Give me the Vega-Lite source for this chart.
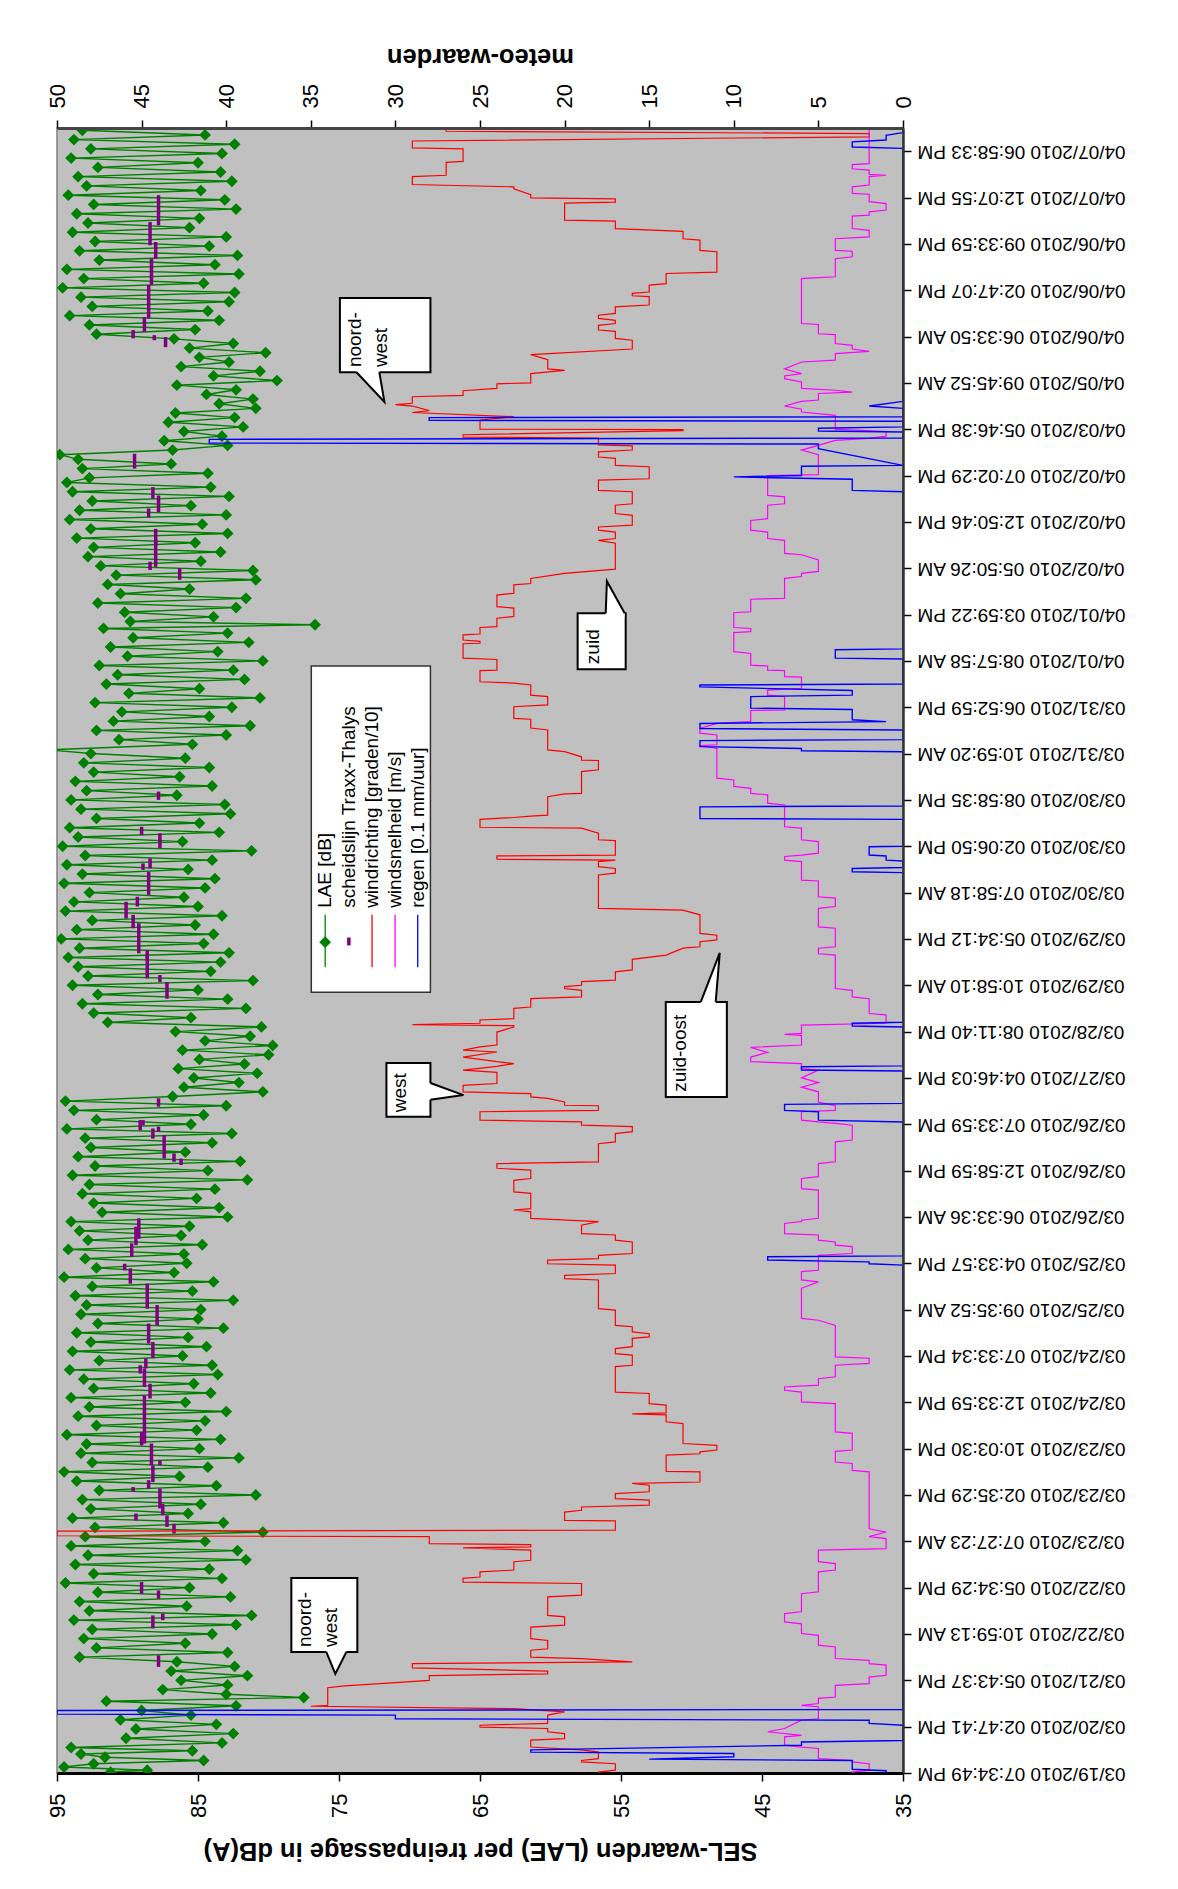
{
"$schema":"https://vega.github.io/schema/vega-lite/v6.json",
"width":846,"height":1645,
"autosize":{"type":"none"},
"padding":{"left":57,"top":128,"right":275,"bottom":116},
"background":"white",
"config":{
 "view":{"fill":"#c0c0c0","stroke":"#808080","strokeWidth":1.5},
 "font":"Liberation Sans",
 "axis":{"labelFont":"Liberation Sans","titleFont":"Liberation Sans","labelColor":"#000","titleColor":"#000","tickColor":"#000","domainColor":"#000","grid":false,"labelOverlap":false,"labelFlush":false,"labelBound":false,"labelLimit":500,"zindex":1}
},
"datasets":{
"lae":[
{"t":35.45,"v":93.2},{"t":35.35,"v":84.5},{"t":35.25,"v":93.8},{"t":35.15,"v":82.4},{"t":35.05,"v":92.6},{"t":34.95,"v":83.3},{"t":34.85,"v":94.0},{"t":34.75,"v":85.0},{"t":34.65,"v":92.1},{"t":34.55,"v":83.4},{"t":34.45,"v":93.5},{"t":34.35,"v":82.6},{"t":34.25,"v":92.9},{"t":34.15,"v":84.8},{"t":34.05,"v":94.2},{"t":33.95,"v":83.1},{"t":33.85,"v":92.4},{"t":33.75,"v":82.3},{"t":33.65,"v":93.6},{"t":33.55,"v":84.9},{"t":33.45,"v":92.8},{"t":33.35,"v":85.6},{"t":33.25,"v":93.9},{"t":33.15,"v":83.0},{"t":33.05,"v":92.3},{"t":32.95,"v":84.2},{"t":32.85,"v":93.4},{"t":32.75,"v":82.2},{"t":32.65,"v":92.0},{"t":32.55,"v":83.8},{"t":32.45,"v":94.3},{"t":32.35,"v":82.1},{"t":32.25,"v":93.1},{"t":32.15,"v":84.6},{"t":32.05,"v":94.6},{"t":31.95,"v":82.4},{"t":31.85,"v":93.3},{"t":31.75,"v":82.8},{"t":31.65,"v":92.5},{"t":31.55,"v":84.3},{"t":31.45,"v":94.1},{"t":31.35,"v":83.5},{"t":31.25,"v":92.7},{"t":31.15,"v":85.2},{"t":31.05,"v":92.2},
{"t":30.95,"v":86.7},{"t":30.85,"v":82.5},{"t":30.75,"v":85.6},{"t":30.65,"v":80.2},{"t":30.55,"v":84.9},{"t":30.45,"v":82.8},{"t":30.35,"v":86.2},{"t":30.25,"v":80.6},{"t":30.15,"v":83.9},{"t":30.05,"v":79.4},{"t":29.95,"v":86.5},{"t":29.85,"v":82.3},{"t":29.75,"v":84.4},{"t":29.65,"v":81.1},{"t":29.55,"v":83.5},{"t":29.45,"v":80.9},{"t":29.35,"v":86.6},{"t":29.25,"v":82.4},{"t":29.15,"v":87.1},{"t":29.05,"v":81.8},{"t":28.95,"v":86.0},{"t":28.85,"v":83.3},{"t":28.75,"v":87.4},{"t":28.65,"v":82.9},{"t":28.55,"v":86.8},
{"t":28.45,"v":94.8},{"t":28.35,"v":93.5},{"t":28.25,"v":86.9},{"t":28.15,"v":93.2},{"t":28.05,"v":84.3},{"t":27.95,"v":92.7},{"t":27.85,"v":94.3},{"t":27.75,"v":84.1},{"t":27.65,"v":93.9},{"t":27.55,"v":82.8},{"t":27.45,"v":92.5},{"t":27.35,"v":85.5},{"t":27.25,"v":93.4},{"t":27.15,"v":83.0},{"t":27.05,"v":94.1},{"t":26.95,"v":84.7},{"t":26.85,"v":92.6},{"t":26.75,"v":82.9},{"t":26.65,"v":93.6},{"t":26.55,"v":85.2},
{"t":26.45,"v":92.4},{"t":26.35,"v":83.4},{"t":26.25,"v":92.8},{"t":26.15,"v":84.8},{"t":26.05,"v":91.9},{"t":25.95,"v":81.1},{"t":25.85,"v":90.8},{"t":25.75,"v":80.9},{"t":25.65,"v":91.4},{"t":25.55,"v":85.6},{"t":25.45,"v":90.5},{"t":25.35,"v":81.6},{"t":25.25,"v":92.1},{"t":25.15,"v":82.3},{"t":25.05,"v":90.2},{"t":24.95,"v":83.9},{"t":24.85,"v":89.8},{"t":24.78,"v":76.7},{"t":24.7,"v":91.7},{"t":24.6,"v":82.9},{"t":24.5,"v":89.6},{"t":24.4,"v":81.4},{"t":24.3,"v":91.2},{"t":24.2,"v":83.6},{"t":24.1,"v":90.0},{"t":24.0,"v":80.4},{"t":23.9,"v":92.0},{"t":23.8,"v":82.5},{"t":23.7,"v":90.7},{"t":23.6,"v":81.7},{"t":23.5,"v":91.5},{"t":23.4,"v":84.9},{"t":23.3,"v":89.9},{"t":23.2,"v":80.6},{"t":23.1,"v":92.3},{"t":23.0,"v":82.6},{"t":22.9,"v":90.4},{"t":22.8,"v":84.2},{"t":22.7,"v":91.0},{"t":22.6,"v":81.3},{"t":22.5,"v":92.2},{"t":22.4,"v":83.0},{"t":22.3,"v":90.6},{"t":22.2,"v":85.4},{"t":22.08,"v":95.6},
{"t":22.0,"v":92.6},{"t":21.9,"v":85.9},{"t":21.8,"v":93.1},{"t":21.7,"v":84.2},{"t":21.6,"v":92.4},{"t":21.5,"v":86.3},{"t":21.4,"v":93.7},{"t":21.3,"v":84.0},{"t":21.2,"v":92.9},{"t":21.1,"v":86.5},{"t":21.0,"v":94.0},{"t":20.9,"v":83.1},{"t":20.8,"v":93.3},{"t":20.7,"v":82.7},{"t":20.6,"v":92.2},{"t":20.5,"v":84.9},{"t":20.4,"v":94.1},{"t":20.3,"v":83.5},{"t":20.2,"v":93.5},{"t":20.1,"v":86.1},{"t":20.0,"v":94.6},{"t":19.9,"v":81.2},{"t":19.8,"v":93.0},{"t":19.7,"v":84.0},{"t":19.6,"v":94.3},{"t":19.5,"v":85.7},{"t":19.4,"v":93.2},{"t":19.3,"v":83.8},{"t":19.2,"v":94.5},{"t":19.1,"v":84.5},{"t":19.0,"v":92.7},{"t":18.9,"v":86.0},{"t":18.8,"v":93.8},{"t":18.7,"v":85.0},{"t":18.6,"v":94.4},{"t":18.5,"v":83.3},{"t":18.4,"v":92.5},{"t":18.3,"v":85.2},{"t":18.2,"v":93.6},{"t":18.1,"v":83.9},{"t":18.0,"v":94.7},{"t":17.9,"v":84.6},{"t":17.8,"v":93.4},{"t":17.7,"v":82.8},{"t":17.6,"v":94.2},
{"t":17.5,"v":83.4},{"t":17.4,"v":93.5},{"t":17.3,"v":84.1},{"t":17.2,"v":92.8},{"t":17.1,"v":81.1},{"t":17.0,"v":93.9},{"t":16.9,"v":85.0},{"t":16.8,"v":92.1},{"t":16.7,"v":82.9},{"t":16.6,"v":93.2},{"t":16.5,"v":81.6},{"t":16.4,"v":92.4},{"t":16.3,"v":85.5},{"t":16.2,"v":91.4},
{"t":16.1,"v":80.5},{"t":16.0,"v":86.6},{"t":15.9,"v":81.3},{"t":15.8,"v":84.5},{"t":15.7,"v":79.7},{"t":15.6,"v":86.1},{"t":15.5,"v":80.0},{"t":15.4,"v":84.9},{"t":15.3,"v":81.7},{"t":15.2,"v":86.4},{"t":15.1,"v":80.8},{"t":15.0,"v":85.3},{"t":14.9,"v":82.1},{"t":14.8,"v":86.0},{"t":14.7,"v":80.4},{"t":14.6,"v":86.8},
{"t":14.5,"v":94.4},{"t":14.4,"v":83.0},{"t":14.3,"v":93.8},{"t":14.2,"v":84.6},{"t":14.1,"v":92.2},{"t":14.0,"v":85.5},{"t":13.9,"v":94.3},{"t":13.8,"v":82.6},{"t":13.7,"v":93.0},{"t":13.6,"v":84.0},{"t":13.5,"v":92.6},{"t":13.4,"v":85.9},{"t":13.3,"v":93.5},{"t":13.2,"v":82.0},{"t":13.1,"v":92.3},{"t":13.0,"v":84.3},{"t":12.9,"v":93.9},{"t":12.8,"v":81.5},{"t":12.7,"v":92.7},{"t":12.6,"v":83.8},{"t":12.5,"v":93.2},{"t":12.4,"v":85.1},{"t":12.3,"v":92.4},{"t":12.2,"v":83.5},{"t":12.1,"v":91.8},{"t":12.0,"v":82.9},{"t":11.9,"v":94.0},{"t":11.8,"v":85.6},{"t":11.7,"v":93.4},{"t":11.6,"v":86.2},{"t":11.5,"v":92.8},{"t":11.4,"v":84.7},{"t":11.3,"v":94.2},{"t":11.2,"v":86.0},{"t":11.1,"v":93.0},{"t":11.0,"v":85.8},{"t":10.9,"v":92.2},{"t":10.8,"v":86.7},{"t":10.7,"v":94.5},{"t":10.6,"v":83.9},{"t":10.5,"v":92.5},{"t":10.4,"v":85.4},{"t":10.3,"v":93.7},{"t":10.2,"v":82.5},{"t":10.1,"v":92.9},{"t":10.0,"v":84.8},{"t":9.9,"v":93.3},{"t":9.8,"v":85.0},{"t":9.7,"v":92.1},{"t":9.6,"v":83.2},{"t":9.5,"v":93.6},{"t":9.4,"v":85.7},{"t":9.3,"v":92.6},{"t":9.2,"v":84.4},{"t":9.1,"v":93.9},{"t":9.0,"v":86.1},{"t":8.9,"v":92.0},{"t":8.8,"v":84.0},{"t":8.7,"v":94.1},{"t":8.6,"v":83.6},
{"t":8.5,"v":93.1},{"t":8.4,"v":85.3},{"t":8.3,"v":92.4},{"t":8.2,"v":84.1},{"t":8.1,"v":94.0},{"t":8.0,"v":85.9},{"t":7.9,"v":92.7},{"t":7.8,"v":83.0},{"t":7.7,"v":93.5},{"t":7.6,"v":84.5},{"t":7.5,"v":92.2},{"t":7.4,"v":85.1},{"t":7.3,"v":94.3},{"t":7.2,"v":83.4},{"t":7.1,"v":92.9},{"t":7.0,"v":84.9},{"t":6.9,"v":93.3},{"t":6.8,"v":82.1},{"t":6.7,"v":92.5},{"t":6.6,"v":84.3},{"t":6.5,"v":94.5},{"t":6.4,"v":86.3},{"t":6.3,"v":93.6},{"t":6.2,"v":83.7},{"t":6.1,"v":92.0},{"t":6.0,"v":80.9},{"t":5.9,"v":93.2},{"t":5.8,"v":84.8},{"t":5.7,"v":92.6},{"t":5.6,"v":85.7},{"t":5.5,"v":93.9},{"t":5.4,"v":83.2},{"t":5.3,"v":92.3},{"t":5.2,"v":80.4},{"t":5.1,"v":93.0},{"t":5.0,"v":84.5},{"t":4.9,"v":94.0},{"t":4.8,"v":82.2},{"t":4.7,"v":92.8},{"t":4.6,"v":81.6},{"t":4.5,"v":93.7},{"t":4.4,"v":84.2},{"t":4.3,"v":92.4},{"t":4.2,"v":83.3},{"t":4.1,"v":94.4},{"t":4.0,"v":85.6},{"t":3.9,"v":92.1},{"t":3.8,"v":82.7},{"t":3.7,"v":93.4},{"t":3.6,"v":85.8},{"t":3.5,"v":92.7},{"t":3.4,"v":81.2},{"t":3.3,"v":93.8},{"t":3.2,"v":82.3},{"t":3.1,"v":92.5},{"t":3.0,"v":84.0},{"t":2.9,"v":93.1},{"t":2.8,"v":85.9},{"t":2.7,"v":92.2},{"t":2.6,"v":82.9},{"t":2.5,"v":93.4},
{"t":2.4,"v":86.5},{"t":2.3,"v":82.4},{"t":2.2,"v":86.9},{"t":2.1,"v":81.5},{"t":2.0,"v":86.2},{"t":1.9,"v":82.9},{"t":1.8,"v":87.5},{"t":1.7,"v":83.0},{"t":1.63,"v":77.5},{"t":1.55,"v":91.5},{"t":1.45,"v":82.3},{"t":1.35,"v":89.0},{"t":1.25,"v":85.5},{"t":1.15,"v":90.5},{"t":1.05,"v":83.7},{"t":0.95,"v":89.4},{"t":0.85,"v":82.5},{"t":0.75,"v":90.1},{"t":0.65,"v":83.3},
{"t":0.55,"v":94.0},{"t":0.48,"v":85.4},{"t":0.41,"v":93.3},{"t":0.34,"v":91.6},{"t":0.27,"v":84.6},{"t":0.2,"v":92.4},{"t":0.13,"v":94.5},{"t":0.06,"v":88.6},{"t":0.02,"v":91.2}
],
"sch":[
{"t1":34.05,"t2":33.4,"v":87.8},{"t1":33.47,"t2":32.97,"v":88.4},{"t1":33.04,"t2":32.68,"v":88.0},{"t1":32.68,"t2":32.11,"v":88.3},{"t1":32.11,"t2":31.39,"v":88.5},{"t1":31.42,"t2":31.1,"v":88.8},{"t1":31.14,"t2":30.96,"v":89.6},{"t1":31.03,"t2":30.92,"v":88.1},{"t1":30.99,"t2":30.77,"v":87.3},{"t1":28.47,"t2":28.15,"v":89.5},{"t1":27.75,"t2":27.5,"v":88.2},{"t1":27.57,"t2":27.21,"v":87.8},{"t1":27.29,"t2":27.1,"v":88.5},{"t1":26.85,"t2":26.49,"v":88.0},
{"t1":26.61,"t2":26.03,"v":88.0},{"t1":26.14,"t2":25.96,"v":88.4},{"t1":26.0,"t2":25.75,"v":86.3},{"t1":21.18,"t2":21.0,"v":87.8},{"t1":20.42,"t2":20.24,"v":89.0},{"t1":20.28,"t2":19.96,"v":87.7},{"t1":19.74,"t2":19.52,"v":88.4},{"t1":19.63,"t2":19.49,"v":88.9},{"t1":19.45,"t2":18.95,"v":88.5},{"t1":18.91,"t2":18.7,"v":89.3},{"t1":18.8,"t2":18.44,"v":90.1},{"t1":18.52,"t2":18.23,"v":89.6},{"t1":18.34,"t2":17.69,"v":89.2},{"t1":17.76,"t2":17.55,"v":88.6},
{"t1":17.65,"t2":17.15,"v":88.6},{"t1":17.22,"t2":17.07,"v":87.7},{"t1":17.07,"t2":16.71,"v":87.2},{"t1":14.56,"t2":14.38,"v":87.8},{"t1":14.09,"t2":13.87,"v":89.1},{"t1":14.09,"t2":13.98,"v":88.9},{"t1":13.91,"t2":13.69,"v":88.2},{"t1":13.95,"t2":13.84,"v":87.8},{"t1":13.77,"t2":13.26,"v":87.4},{"t1":13.37,"t2":13.19,"v":86.7},{"t1":13.26,"t2":13.12,"v":86.2},{"t1":11.97,"t2":11.53,"v":89.2},{"t1":11.79,"t2":11.39,"v":89.4},{"t1":11.43,"t2":11.14,"v":89.7},{"t1":10.99,"t2":10.85,"v":90.2},{"t1":10.89,"t2":10.56,"v":89.8},{"t1":10.56,"t2":10.02,"v":88.6},{"t1":10.1,"t2":9.66,"v":87.9},{"t1":9.7,"t2":9.27,"v":88.5},{"t1":9.3,"t2":8.95,"v":88.2},{"t1":8.95,"t2":8.73,"v":88.7},
{"t1":8.8,"t2":8.62,"v":89.1},{"t1":8.73,"t2":8.33,"v":88.8},{"t1":8.4,"t2":8.08,"v":88.4},{"t1":8.15,"t2":7.11,"v":88.8},{"t1":7.36,"t2":7.07,"v":89.0},{"t1":7.11,"t2":6.64,"v":88.3},{"t1":6.75,"t2":6.64,"v":87.7},{"t1":6.64,"t2":6.28,"v":88.2},{"t1":6.32,"t2":6.14,"v":88.5},{"t1":6.17,"t2":6.07,"v":89.6},{"t1":6.14,"t2":5.71,"v":87.7},{"t1":5.81,"t2":5.56,"v":87.5},{"t1":5.56,"t2":5.31,"v":87.2},{"t1":5.38,"t2":5.17,"v":86.7},{"t1":5.6,"t2":5.45,"v":89.4},{"t1":4.12,"t2":3.87,"v":89.0},{"t1":3.94,"t2":3.76,"v":87.8},{"t1":3.44,"t2":3.3,"v":87.5},{"t1":3.4,"t2":3.12,"v":88.2},{"t1":2.54,"t2":2.29,"v":87.8}
],
"red":[
{"t":35.5,"m":27},{"t":35.43,"m":27},{"t":35.38,"m":2},{"t":35.31,"m":2},{"t":35.22,"m":29},{"t":35.07,"m":29},{"t":35.05,"m":26},{"t":34.78,"m":26},{"t":34.76,"m":27},{"t":34.48,"m":27},{"t":34.45,"m":29},{"t":34.28,"m":29},{"t":34.23,"m":23},{"t":34.19,"m":23},{"t":34.06,"m":22},{"t":33.99,"m":22},{"t":33.97,"m":17},{"t":33.9,"m":17},{"t":33.88,"m":20},{"t":33.51,"m":20},{"t":33.49,"m":17},{"t":33.33,"m":17},{"t":33.27,"m":13},{"t":33.11,"m":13},{"t":33.08,"m":12},{"t":32.86,"m":12},{"t":32.83,"m":11},{"t":32.39,"m":11},{"t":32.36,"m":14},{"t":32.14,"m":14},{"t":32.11,"m":15},{"t":31.96,"m":15},{"t":31.93,"m":16},{"t":31.88,"m":16},{"t":31.86,"m":15},{"t":31.68,"m":15},{"t":31.64,"m":17},{"t":31.5,"m":17},{"t":31.46,"m":18},{"t":31.39,"m":18},{"t":31.35,"m":17},{"t":31.28,"m":17},{"t":31.24,"m":18},{"t":31.14,"m":18},{"t":31.11,"m":17},{"t":30.96,"m":17},{"t":30.92,"m":16},{"t":30.73,"m":16},{"t":30.61,"m":22},{"t":30.5,"m":21},{"t":30.3,"m":21},{"t":30.27,"m":20},{"t":30.2,"m":22},{"t":30.0,"m":22},{"t":29.98,"m":24},{"t":29.88,"m":24},{"t":29.83,"m":26},{"t":29.73,"m":26},{"t":29.7,"m":29},{"t":29.56,"m":29},{"t":29.53,"m":30},{"t":29.5,"m":29},{"t":29.4,"m":28},{"t":29.36,"m":29},{"t":29.27,"m":23},{"t":29.2,"m":25},{"t":29.0,"m":25},{"t":28.99,"m":13},{"t":28.97,"m":13},{"t":28.88,"m":26},{"t":28.83,"m":26},{"t":28.81,"m":18},{"t":28.66,"m":18},{"t":28.64,"m":16},{"t":28.55,"m":16},{"t":28.51,"m":18},{"t":28.4,"m":18},{"t":28.37,"m":17},{"t":28.22,"m":17},{"t":28.19,"m":15},{"t":27.93,"m":15},{"t":27.9,"m":18},{"t":27.68,"m":18},{"t":27.65,"m":16},{"t":27.39,"m":16},{"t":27.36,"m":17},{"t":27.18,"m":17},{"t":27.14,"m":16},{"t":26.93,"m":16},{"t":26.89,"m":18},{"t":26.82,"m":18},{"t":26.78,"m":17},{"t":26.64,"m":17},
{"t":26.6,"m":18},{"t":26.54,"m":17},{"t":25.98,"m":17},{"t":25.89,"m":20},{"t":25.78,"m":22},{"t":25.67,"m":22},{"t":25.64,"m":23},{"t":25.46,"m":23},{"t":25.42,"m":24},{"t":25.17,"m":24},{"t":25.14,"m":23},{"t":24.96,"m":23},{"t":24.92,"m":24},{"t":24.74,"m":24},{"t":24.72,"m":25},{"t":24.58,"m":25},{"t":24.56,"m":26},{"t":24.45,"m":26},{"t":24.42,"m":25},{"t":24.38,"m":25},{"t":24.37,"m":26},{"t":24.06,"m":26},{"t":24.03,"m":24},{"t":23.8,"m":24},{"t":23.79,"m":25},{"t":23.55,"m":25},{"t":23.52,"m":23},{"t":23.48,"m":22},{"t":23.26,"m":22},{"t":23.23,"m":21},{"t":23.05,"m":21},{"t":23.01,"m":23},{"t":22.76,"m":23},{"t":22.74,"m":22},{"t":22.55,"m":22},{"t":22.51,"m":21},{"t":22.08,"m":21},{"t":22.04,"m":20},{"t":21.93,"m":19},{"t":21.86,"m":19},{"t":21.85,"m":18},{"t":21.65,"m":18},{"t":21.61,"m":19},{"t":21.14,"m":19},{"t":21.13,"m":20},{"t":21.07,"m":21},{"t":20.67,"m":21},{"t":20.65,"m":22},{"t":20.62,"m":23},{"t":20.58,"m":25},{"t":20.41,"m":25},{"t":20.39,"m":19},{"t":20.28,"m":18},{"t":20.14,"m":18},{"t":20.12,"m":17},{"t":19.81,"m":17},{"t":19.79,"m":24},{"t":19.72,"m":24},{"t":19.7,"m":17},{"t":19.67,"m":18},{"t":19.56,"m":18},{"t":19.52,"m":17},{"t":19.42,"m":17},{"t":19.38,"m":18},{"t":18.66,"m":18},{"t":18.62,"m":13},{"t":18.52,"m":12},{"t":18.12,"m":12},{"t":18.08,"m":11},{"t":17.98,"m":11},{"t":17.94,"m":12},{"t":17.83,"m":12},{"t":17.8,"m":13},{"t":17.65,"m":14},
{"t":17.56,"m":16},{"t":17.33,"m":16},{"t":17.29,"m":17},{"t":17.11,"m":17},{"t":17.08,"m":19},{"t":17.0,"m":19},{"t":16.97,"m":20},{"t":16.93,"m":20},{"t":16.89,"m":19},{"t":16.75,"m":19},{"t":16.71,"m":22},{"t":16.53,"m":22},{"t":16.5,"m":23},{"t":16.28,"m":23},{"t":16.25,"m":25},{"t":16.18,"m":25},{"t":16.15,"m":29},{"t":16.13,"m":23},{"t":16.1,"m":23},{"t":15.99,"m":24},{"t":15.71,"m":24},{"t":15.67,"m":25},{"t":15.6,"m":26},{"t":15.56,"m":24},{"t":15.45,"m":26},{"t":15.35,"m":24},{"t":15.31,"m":23},{"t":15.25,"m":24},{"t":15.17,"m":26},{"t":15.12,"m":24},{"t":14.88,"m":24},{"t":14.84,"m":26},{"t":14.7,"m":26},{"t":14.66,"m":22},{"t":14.59,"m":22},{"t":14.56,"m":21},{"t":14.48,"m":20},{"t":14.41,"m":20},{"t":14.4,"m":18},{"t":14.3,"m":18},{"t":14.27,"m":25},{"t":14.09,"m":25},{"t":14.05,"m":19},{"t":13.98,"m":19},{"t":13.95,"m":16},{"t":13.84,"m":16},{"t":13.8,"m":17},{"t":13.62,"m":17},{"t":13.58,"m":18},{"t":13.19,"m":18},{"t":13.15,"m":24},{"t":13.05,"m":24},{"t":13.01,"m":22},{"t":12.83,"m":22},{"t":12.79,"m":23},{"t":12.54,"m":23},{"t":12.51,"m":22},{"t":12.18,"m":22},{"t":12.15,"m":23},{"t":12.11,"m":22},{"t":11.97,"m":22},{"t":11.9,"m":18},{"t":11.82,"m":19},{"t":11.64,"m":19},{"t":11.61,"m":17},{"t":11.5,"m":17},{"t":11.46,"m":16},{"t":11.21,"m":16},{"t":11.17,"m":18},{"t":11.1,"m":18},{"t":11.07,"m":21},{"t":10.99,"m":21},{"t":10.96,"m":17},{"t":10.78,"m":17},{"t":10.74,"m":20},{"t":10.67,"m":20},{"t":10.64,"m":18},{"t":10.02,"m":18},{"t":9.99,"m":17},{"t":9.66,"m":17},{"t":9.63,"m":16},{"t":9.52,"m":16},{"t":9.48,"m":15},{"t":9.41,"m":15},{"t":9.38,"m":16},{"t":9.2,"m":16},{"t":9.16,"m":17},{"t":9.05,"m":17},{"t":9.02,"m":16},{"t":8.8,"m":16},{"t":8.77,"m":17},
{"t":8.22,"m":17},{"t":8.19,"m":15},{"t":7.97,"m":15},{"t":7.94,"m":14},{"t":7.77,"m":14},{"t":7.75,"m":16},{"t":7.73,"m":14},{"t":7.58,"m":14},{"t":7.54,"m":13},{"t":7.11,"m":13},{"t":7.07,"m":11},{"t":6.97,"m":11},{"t":6.93,"m":12},{"t":6.89,"m":12},{"t":6.86,"m":14},{"t":6.51,"m":14},{"t":6.5,"m":12},{"t":6.28,"m":12},{"t":6.25,"m":16},{"t":6.21,"m":15},{"t":6.07,"m":15},{"t":6.03,"m":17},{"t":5.92,"m":17},{"t":5.89,"m":15},{"t":5.78,"m":15},{"t":5.74,"m":19},{"t":5.67,"m":19},{"t":5.63,"m":20},{"t":5.45,"m":20},{"t":5.44,"m":17},{"t":5.24,"m":17},{"t":5.22,"m":50},{"t":5.12,"m":50},{"t":5.1,"m":28},{"t":4.95,"m":28},{"t":4.93,"m":22},{"t":4.88,"m":22},{"t":4.86,"m":26},{"t":4.81,"m":22},{"t":4.59,"m":22},{"t":4.56,"m":23},{"t":4.38,"m":23},{"t":4.34,"m":25},{"t":4.23,"m":25},{"t":4.2,"m":26},{"t":4.12,"m":26},{"t":4.09,"m":19},{"t":3.84,"m":19},{"t":3.8,"m":21},{"t":3.4,"m":21},{"t":3.37,"m":20},{"t":3.19,"m":20},{"t":3.15,"m":22},{"t":2.9,"m":22},{"t":2.86,"m":21},{"t":2.68,"m":21},{"t":2.65,"m":22},{"t":2.5,"m":22},{"t":2.47,"m":19},{"t":2.4,"m":16},{"t":2.36,"m":29},{"t":2.27,"m":29},{"t":2.2,"m":21},{"t":2.14,"m":21},{"t":2.1,"m":28},{"t":2.0,"m":28},{"t":1.95,"m":30},{"t":1.88,"m":33},{"t":1.84,"m":34},{"t":1.46,"m":34},{"t":1.44,"m":35},{"t":1.39,"m":23},{"t":1.32,"m":20},{"t":1.25,"m":21},{"t":1.07,"m":21},{"t":1.03,"m":25},{"t":0.99,"m":25},{"t":0.96,"m":21},{"t":0.89,"m":21},{"t":0.85,"m":20},{"t":0.74,"m":20},{"t":0.71,"m":22},{"t":0.56,"m":22},{"t":0.5,"m":19},{"t":0.45,"m":18},{"t":0.31,"m":18},{"t":0.27,"m":19},{"t":0.24,"m":19},{"t":0.2,"m":17},{"t":0.06,"m":17},{"t":0.02,"m":18},{"t":0,"m":18}
],
"mag":[
{"t":35.5,"m":2},{"t":34.73,"m":2},{"t":34.71,"m":3},{"t":34.62,"m":3},{"t":34.59,"m":2},{"t":34.5,"m":2},{"t":34.48,"m":1},{"t":34.45,"m":2},{"t":34.27,"m":2},{"t":34.23,"m":3},{"t":34.09,"m":3},{"t":34.07,"m":2},{"t":33.91,"m":2},{"t":33.87,"m":1},{"t":33.73,"m":1},{"t":33.69,"m":2},{"t":33.62,"m":2},{"t":33.6,"m":3},{"t":33.33,"m":3},{"t":33.29,"m":2},{"t":33.15,"m":2},{"t":33.11,"m":4},{"t":32.86,"m":4},{"t":32.84,"m":3},{"t":32.72,"m":3},{"t":32.68,"m":4},{"t":32.29,"m":4},{"t":32.27,"m":5},{"t":32.25,"m":6},{"t":31.28,"m":6},{"t":31.26,"m":5},{"t":31.06,"m":5},{"t":31.04,"m":4},{"t":30.85,"m":4},{"t":30.81,"m":3},{"t":30.73,"m":3},{"t":30.68,"m":2},{"t":30.63,"m":4},{"t":30.49,"m":4},{"t":30.45,"m":6},{"t":30.3,"m":7},{"t":30.2,"m":6},{"t":30.15,"m":7},{"t":30.09,"m":7},{"t":30.02,"m":6},{"t":29.88,"m":6},{"t":29.84,"m":4},{"t":29.8,"m":3},{"t":29.77,"m":5},{"t":29.63,"m":5},{"t":29.6,"m":6},{"t":29.5,"m":7},{"t":29.43,"m":6},{"t":29.37,"m":6},{"t":29.3,"m":4},{"t":29.0,"m":4},{"t":28.95,"m":1},{"t":28.85,"m":1},{"t":28.8,"m":2},{"t":28.76,"m":4},{"t":28.65,"m":5},{"t":28.55,"m":6},{"t":28.45,"m":5},{"t":28.02,"m":5},{"t":28.0,"m":8},{"t":27.57,"m":8},{"t":27.54,"m":7},{"t":27.39,"m":7},{"t":27.36,"m":8},{"t":27.07,"m":8},{"t":27.03,"m":9},{"t":26.82,"m":9},{"t":26.78,"m":8},{"t":26.64,"m":8},
{"t":26.6,"m":7},{"t":26.32,"m":7},{"t":26.29,"m":6},{"t":26.18,"m":5},{"t":25.93,"m":5},{"t":25.89,"m":6},{"t":25.82,"m":6},{"t":25.78,"m":7},{"t":25.35,"m":7},{"t":25.33,"m":9},{"t":25.06,"m":9},{"t":25.04,"m":10},{"t":24.72,"m":10},{"t":24.7,"m":9},{"t":24.63,"m":9},{"t":24.61,"m":10},{"t":24.2,"m":10},{"t":24.16,"m":9},{"t":23.91,"m":9},{"t":23.89,"m":8},{"t":23.8,"m":8},{"t":23.79,"m":7},{"t":23.66,"m":7},{"t":23.65,"m":6},{"t":23.41,"m":6},{"t":23.39,"m":7},{"t":23.37,"m":8},{"t":23.26,"m":8},{"t":23.23,"m":7},{"t":22.94,"m":7},{"t":22.93,"m":9},{"t":22.69,"m":9},{"t":22.65,"m":11},{"t":22.54,"m":12},{"t":22.44,"m":12},{"t":22.4,"m":11},{"t":22.19,"m":11},{"t":22.17,"m":12},{"t":22.11,"m":11},{"t":21.47,"m":11},{"t":21.43,"m":10},{"t":21.29,"m":10},{"t":21.25,"m":9},{"t":21.14,"m":9},{"t":21.11,"m":8},{"t":20.93,"m":8},{"t":20.89,"m":7},{"t":20.42,"m":7},{"t":20.39,"m":6},{"t":20.14,"m":6},{"t":20.1,"m":5},{"t":19.85,"m":5},{"t":19.81,"m":6},{"t":19.78,"m":7},{"t":19.7,"m":7},{"t":19.67,"m":6},{"t":19.27,"m":6},{"t":19.25,"m":5},{"t":18.91,"m":5},{"t":18.88,"m":4},{"t":18.7,"m":4},{"t":18.66,"m":5},{"t":18.26,"m":5},{"t":18.23,"m":4},{"t":17.83,"m":4},{"t":17.8,"m":5},{"t":17.68,"m":5},
{"t":17.65,"m":4},{"t":16.93,"m":4},{"t":16.89,"m":3},{"t":16.75,"m":3},{"t":16.71,"m":2},{"t":16.39,"m":2},{"t":16.36,"m":1},{"t":16.18,"m":1},{"t":16.14,"m":6},{"t":15.96,"m":6},{"t":15.94,"m":7},{"t":15.92,"m":6},{"t":15.71,"m":6},{"t":15.66,"m":9},{"t":15.55,"m":8},{"t":15.45,"m":9},{"t":15.35,"m":9},{"t":15.31,"m":6},{"t":15.2,"m":6},{"t":15.17,"m":5},{"t":15.0,"m":6},{"t":14.9,"m":5},{"t":14.8,"m":6},{"t":14.7,"m":5},{"t":14.48,"m":5},{"t":14.4,"m":4},{"t":14.3,"m":4},{"t":14.27,"m":6},{"t":14.09,"m":6},{"t":14.05,"m":5},{"t":14.02,"m":4},{"t":13.98,"m":3},{"t":13.66,"m":3},{"t":13.62,"m":4},{"t":13.19,"m":4},{"t":13.15,"m":5},{"t":12.87,"m":5},{"t":12.83,"m":6},{"t":12.61,"m":6},{"t":12.58,"m":5},{"t":11.97,"m":5},{"t":11.93,"m":6},{"t":11.9,"m":6},{"t":11.86,"m":7},{"t":11.64,"m":7},{"t":11.61,"m":5},{"t":11.5,"m":5},{"t":11.46,"m":4},{"t":11.39,"m":4},{"t":11.36,"m":3},{"t":11.21,"m":3},{"t":11.17,"m":5},{"t":10.85,"m":5},{"t":10.82,"m":6},{"t":10.64,"m":6},{"t":10.6,"m":5},{"t":10.46,"m":6},{"t":9.81,"m":6},{"t":9.77,"m":5},{"t":9.66,"m":4},{"t":8.98,"m":4},{"t":8.95,"m":2},{"t":8.84,"m":2},{"t":8.8,"m":4},
{"t":8.55,"m":4},{"t":8.51,"m":5},{"t":8.37,"m":5},{"t":8.33,"m":7},{"t":8.26,"m":7},{"t":8.22,"m":6},{"t":8.01,"m":6},{"t":7.97,"m":4},{"t":7.36,"m":4},{"t":7.33,"m":3},{"t":6.97,"m":3},{"t":6.94,"m":4},{"t":6.71,"m":4},{"t":6.68,"m":3},{"t":6.53,"m":3},{"t":6.5,"m":2},{"t":5.27,"m":2},{"t":5.2,"m":1},{"t":5.1,"m":2},{"t":5.06,"m":1},{"t":4.84,"m":1},{"t":4.81,"m":5},{"t":4.56,"m":5},{"t":4.52,"m":4},{"t":4.38,"m":4},{"t":4.34,"m":5},{"t":3.91,"m":5},{"t":3.87,"m":6},{"t":3.48,"m":6},{"t":3.44,"m":7},{"t":3.26,"m":7},{"t":3.22,"m":6},{"t":3.01,"m":6},{"t":2.97,"m":5},{"t":2.76,"m":5},{"t":2.72,"m":4},{"t":2.47,"m":4},{"t":2.43,"m":2},{"t":2.36,"m":2},{"t":2.33,"m":1},{"t":2.11,"m":1},{"t":2.07,"m":2},{"t":1.93,"m":2},{"t":1.89,"m":4},{"t":1.64,"m":4},{"t":1.61,"m":5},{"t":1.5,"m":5},{"t":1.46,"m":6},{"t":1.43,"m":5},{"t":1.17,"m":5},{"t":1.14,"m":6},{"t":0.96,"m":7},{"t":0.89,"m":8},{"t":0.81,"m":6},{"t":0.78,"m":7},{"t":0.6,"m":7},{"t":0.56,"m":6},{"t":0.53,"m":5},{"t":0.31,"m":5},{"t":0.27,"m":3},{"t":0.24,"m":3},{"t":0.2,"m":2},{"t":0.06,"m":2},{"t":0.02,"m":3},{"t":0,"m":3}
],
"blue":[
{"t":35.5,"m":0},{"t":35.4,"m":0},{"t":35.34,"m":1},{"t":35.24,"m":1},{"t":35.2,"m":3},{"t":35.09,"m":3},{"t":35.06,"m":0},{"t":29.6,"m":0},{"t":29.5,"m":2},{"t":29.45,"m":0},{"t":29.27,"m":0},{"t":29.25,"m":28},{"t":29.19,"m":28},{"t":29.17,"m":0},{"t":29.05,"m":0},{"t":29.02,"m":5},{"t":28.96,"m":5},{"t":28.94,"m":0},{"t":28.81,"m":0},{"t":28.78,"m":41},{"t":28.7,"m":41},{"t":28.68,"m":5},{"t":28.58,"m":5},{"t":28.22,"m":0},{"t":28.2,"m":6},{"t":28.0,"m":6},{"t":27.97,"m":10},{"t":27.92,"m":3},{"t":27.68,"m":3},{"t":27.65,"m":0},{"t":24.26,"m":0},{"t":24.24,"m":4},{"t":24.06,"m":4},{"t":24.04,"m":0},{"t":23.5,"m":0},{"t":23.48,"m":12},{"t":23.44,"m":12},{"t":23.36,"m":3},{"t":23.26,"m":3},{"t":23.23,"m":9},{"t":22.98,"m":9},{"t":22.95,"m":3},{"t":22.73,"m":3},{"t":22.69,"m":1},{"t":22.65,"m":12},{"t":22.54,"m":12},{"t":22.51,"m":0},{"t":22.3,"m":0},{"t":22.28,"m":12},{"t":22.15,"m":12},{"t":22.11,"m":6},{"t":22.06,"m":6},{"t":22.04,"m":0},{"t":20.87,"m":0},{"t":20.85,"m":12},{"t":20.6,"m":12},{"t":20.58,"m":0},{"t":20.0,"m":0},{"t":19.99,"m":2},{"t":19.81,"m":2},{"t":19.79,"m":1},{"t":19.7,"m":1},{"t":19.68,"m":0},{"t":19.54,"m":0},{"t":19.52,"m":3},{"t":19.45,"m":3},{"t":19.43,"m":0},{"t":16.2,"m":0},{"t":16.18,"m":3},{"t":16.12,"m":3},{"t":16.1,"m":0},{"t":15.26,"m":0},{"t":15.24,"m":6},{"t":15.17,"m":6},{"t":15.15,"m":0},{"t":14.45,"m":0},{"t":14.43,"m":7},{"t":14.3,"m":7},{"t":14.27,"m":5},{"t":14.09,"m":5},{"t":14.05,"m":0},{"t":11.16,"m":0},{"t":11.14,"m":8},{"t":11.07,"m":8},{"t":11.03,"m":2},{"t":10.99,"m":2},{"t":10.96,"m":0},{"t":1.37,"m":0},{"t":1.35,"m":50},{"t":1.27,"m":50},{"t":1.25,"m":30},{"t":1.17,"m":30},{"t":1.14,"m":2},{"t":1.07,"m":2},{"t":1.03,"m":0},{"t":0.7,"m":0},{"t":0.67,"m":6},{"t":0.6,"m":6},{"t":0.5,"m":22},{"t":0.45,"m":22},{"t":0.42,"m":10},{"t":0.35,"m":10},{"t":0.3,"m":15},{"t":0.27,"m":3},{"t":0.08,"m":3},{"t":0.05,"m":1},{"t":0,"m":1}
],
"leg":[
{"s":"LAE [dB]","x":34.15},{"s":"scheidslijn Traxx-Thalys","x":32.75},{"s":"windrichting [graden/10]","x":31.38},{"s":"windsnelheid [m/s]","x":30.02},{"s":"regen [0.1 mm/uur]","x":28.68}
],
"legbox":[{"x1":34.97,"x2":27.93,"t1":23.89,"t2":16.85}],
"cbox":[
{"x1":33.28,"x2":27.93,"t1":31.83,"t2":30.23},
{"x1":19.23,"x2":16.39,"t1":25.03,"t2":23.82},
{"x1":30.53,"x2":27.93,"t1":15.32,"t2":14.16},
{"x1":14.02,"x2":10.41,"t1":16.64,"t2":14.59},
{"x1":36.15,"x2":32.25,"t1":4.21,"t2":2.61}
],
"cfill":[
{"id":1,"t":30.31,"a":32.3,"b":30.95},{"id":1,"t":30.23,"a":32.3,"b":30.95},{"id":1,"t":29.59,"a":30.65,"b":30.65},
{"id":2,"t":24.95,"a":17.57,"b":16.45},{"id":2,"t":25.03,"a":17.57,"b":16.45},{"id":2,"t":25.72,"a":17.5,"b":17.5},
{"id":3,"t":14.89,"a":28.05,"b":27.93},{"id":3,"t":14.63,"a":28.05,"b":25.98},{"id":3,"t":14.53,"a":28.05,"b":27.93},
{"id":4,"t":16.56,"a":11.95,"b":11.07},{"id":4,"t":16.64,"a":11.95,"b":11.07},{"id":4,"t":17.7,"a":10.83,"b":10.83},
{"id":5,"t":2.69,"a":34.08,"b":32.9},{"id":5,"t":2.61,"a":34.08,"b":32.9},{"id":5,"t":2.14,"a":33.55,"b":33.55}
],
"cline":[
{"id":1,"k":0,"x":32.3,"t":30.23},{"id":1,"k":1,"x":30.65,"t":29.59},{"id":1,"k":2,"x":30.95,"t":30.23},
{"id":2,"k":0,"x":17.57,"t":25.03},{"id":2,"k":1,"x":17.5,"t":25.72},{"id":2,"k":2,"x":16.45,"t":25.03},
{"id":3,"k":0,"x":27.93,"t":14.89},{"id":3,"k":1,"x":25.98,"t":14.63},{"id":3,"k":2,"x":27.93,"t":14.53},
{"id":4,"k":0,"x":11.95,"t":16.64},{"id":4,"k":1,"x":10.83,"t":17.7},{"id":4,"k":2,"x":11.07,"t":16.64},
{"id":5,"k":0,"x":34.08,"t":2.61},{"id":5,"k":1,"x":33.55,"t":2.14},{"id":5,"k":2,"x":32.9,"t":2.61}
],
"ctext":[
{"txt":"noord-","x":32.37,"t":30.34},{"txt":"west","x":30.83,"t":30.34},
{"txt":"zuid","x":18.34,"t":23.93},
{"txt":"west","x":29.7,"t":14.26},
{"txt":"zuid-oost","x":13.2,"t":14.7},
{"txt":"noord-","x":35.33,"t":2.72},{"txt":"west","x":33.79,"t":2.72}
]
},
"layer":[
{"layer":[
 {"data":{"name":"lae"},
  "mark":{"type":"line","color":"#008000","strokeWidth":1.4,"clip":true,"point":{"shape":"diamond","size":140,"filled":true,"color":"#008000","opacity":1}},
  "encoding":{
   "x":{"field":"v","type":"quantitative","scale":{"domain":[35,95],"reverse":true,"nice":false,"zero":false},
    "axis":{"orient":"bottom","values":[35,45,55,65,75,85,95],"labelAngle":270,"labelAlign":"right","labelBaseline":"middle","labelFontSize":22,"labelPadding":12,"tickSize":8,"tickWidth":1.5,"domainWidth":3,
     "title":"SEL-waarden (LAE) per treinpassage in dB(A)","titleFontSize":25.5,"titleFontWeight":"bold","titleAngle":180,"titleBaseline":"bottom","titlePadding":20}},
   "y":{"field":"t","type":"quantitative","scale":{"domain":[0,35.5],"nice":false,"zero":false},
    "axis":{"orient":"right","title":null,"values":[0,0.5,1,1.5,2,2.5,3,3.5,4,4.5,5,5.5,6,6.5,7,7.5,8,8.5,9,9.5,10,10.5,11,11.5,12,12.5,13,13.5,14,14.5,15,15.5,16,16.5,17,17.5,18,18.5,19,19.5,20,20.5,21,21.5,22,22.5,23,23.5,24,24.5,25,25.5,26,26.5,27,27.5,28,28.5,29,29.5,30,30.5,31,31.5,32,32.5,33,33.5,34,34.5,35],
     "labelExpr":"datum.value % 1 == 0 ? ['03/19/2010 07:34:49 PM','03/20/2010 02:47:41 PM','03/21/2010 05:43:37 PM','03/22/2010 10:59:13 AM','03/22/2010 05:34:29 PM','03/23/2010 07:27:23 AM','03/23/2010 02:35:29 PM','03/23/2010 10:03:30 PM','03/24/2010 12:33:59 PM','03/24/2010 07:33:34 PM','03/25/2010 09:35:52 AM','03/25/2010 04:33:57 PM','03/26/2010 06:33:36 AM','03/26/2010 12:58:59 PM','03/26/2010 07:33:59 PM','03/27/2010 04:46:03 PM','03/28/2010 08:11:40 PM','03/29/2010 10:58:10 AM','03/29/2010 05:34:12 PM','03/30/2010 07:58:18 AM','03/30/2010 02:06:50 PM','03/30/2010 08:58:35 PM','03/31/2010 10:59:20 AM','03/31/2010 06:52:59 PM','04/01/2010 08:57:58 AM','04/01/2010 03:59:22 PM','04/02/2010 05:50:26 AM','04/02/2010 12:50:46 PM','04/02/2010 07:02:29 PM','04/03/2010 05:46:38 PM','04/05/2010 09:45:52 AM','04/06/2010 06:33:50 AM','04/06/2010 02:47:07 PM','04/06/2010 09:33:59 PM','04/07/2010 12:07:55 PM','04/07/2010 06:58:33 PM'][datum.value] : ''",
     "labelAngle":180,"labelAlign":"right","labelBaseline":"middle","labelFontSize":19,"labelPadding":6,"labelLimit":500,"tickSize":8,"tickWidth":1.5,"domainWidth":2.5,"domainColor":"#333","zindex":1}},
   "order":{"field":"t","type":"quantitative"}
  }},
 {"data":{"name":"sch"},
  "mark":{"type":"rule","color":"#800080","strokeWidth":3.5},
  "encoding":{"x":{"field":"v","type":"quantitative"},"y":{"field":"t1","type":"quantitative"},"y2":{"field":"t2"}}}
]},
{"layer":[
 {"data":{"name":"red"},
  "mark":{"type":"line","color":"#ff0000","strokeWidth":1.2,"clip":true},
  "encoding":{
   "x":{"field":"m","type":"quantitative","scale":{"domain":[0,50],"reverse":true,"nice":false,"zero":false},
    "axis":{"orient":"top","values":[0,5,10,15,20,25,30,35,40,45,50],"labelAngle":270,"labelAlign":"left","labelBaseline":"middle","labelFontSize":22,"labelPadding":12,"tickSize":8,"tickWidth":1.5,"domainWidth":3,"domainColor":"#444","zindex":1,
     "title":"meteo-waarden","titleFontSize":25.5,"titleFontWeight":"bold","titleAngle":180,"titleBaseline":"top","titlePadding":15}},
   "y":{"field":"t","type":"quantitative"},
   "order":{"field":"t","type":"quantitative"}}},
 {"data":{"name":"mag"},
  "mark":{"type":"line","color":"#ff00ff","strokeWidth":1.2,"clip":true},
  "encoding":{"x":{"field":"m","type":"quantitative"},"y":{"field":"t","type":"quantitative"},"order":{"field":"t","type":"quantitative"}}},
 {"data":{"name":"blue"},
  "mark":{"type":"line","color":"#0000ff","strokeWidth":1.4,"clip":true},
  "encoding":{"x":{"field":"m","type":"quantitative"},"y":{"field":"t","type":"quantitative"},"order":{"field":"t","type":"quantitative"}}},
 {"data":{"name":"legbox"},
  "mark":{"type":"rect","fill":"white","stroke":"#333","strokeWidth":1.5},
  "encoding":{"x":{"field":"x1","type":"quantitative"},"x2":{"field":"x2"},"y":{"field":"t1","type":"quantitative"},"y2":{"field":"t2"}}},
 {"data":{"name":"leg"},
  "transform":[{"filter":"datum.s != 'scheidslijn Traxx-Thalys'"}],
  "mark":{"type":"rule","strokeWidth":1.3},
  "encoding":{"x":{"field":"x","type":"quantitative"},"y":{"datum":18.52},"y2":{"datum":17.39},
   "color":{"field":"s","type":"nominal","scale":{"domain":["LAE [dB]","scheidslijn Traxx-Thalys","windrichting [graden/10]","windsnelheid [m/s]","regen [0.1 mm/uur]"],"range":["#008000","#800080","#ff0000","#ff00ff","#0000ff"]},"legend":null}}},
 {"data":{"name":"leg"},
  "transform":[{"filter":"datum.s == 'scheidslijn Traxx-Thalys'"}],
  "mark":{"type":"rule","strokeWidth":3.5,"color":"#800080"},
  "encoding":{"x":{"field":"x","type":"quantitative"},"y":{"datum":18.03},"y2":{"datum":17.86}}},
 {"data":{"name":"leg"},
  "transform":[{"filter":"datum.s == 'LAE [dB]'"}],
  "mark":{"type":"point","shape":"diamond","size":140,"filled":true,"color":"#008000","opacity":1},
  "encoding":{"x":{"field":"x","type":"quantitative"},"y":{"datum":17.93}}},
 {"data":{"name":"leg"},
  "mark":{"type":"text","angle":270,"align":"left","baseline":"middle","fontSize":19,"font":"Liberation Sans","color":"#000"},
  "encoding":{"x":{"field":"x","type":"quantitative"},"y":{"datum":18.67},"text":{"field":"s"}}},
 {"data":{"name":"cbox"},
  "mark":{"type":"rect","fill":"white","stroke":"#000","strokeWidth":2},
  "encoding":{"x":{"field":"x1","type":"quantitative"},"x2":{"field":"x2"},"y":{"field":"t1","type":"quantitative"},"y2":{"field":"t2"}}},
 {"data":{"name":"cfill"},
  "mark":{"type":"area","orient":"horizontal","fill":"white","opacity":1},
  "encoding":{"y":{"field":"t","type":"quantitative"},"x":{"field":"a","type":"quantitative"},"x2":{"field":"b"},"detail":{"field":"id","type":"nominal"}}},
 {"data":{"name":"cline"},
  "mark":{"type":"line","color":"#000","strokeWidth":2,"strokeJoin":"miter"},
  "encoding":{"x":{"field":"x","type":"quantitative"},"y":{"field":"t","type":"quantitative"},"detail":{"field":"id","type":"nominal"},"order":{"field":"k","type":"quantitative"}}},
 {"data":{"name":"ctext"},
  "mark":{"type":"text","angle":270,"align":"left","baseline":"middle","fontSize":19,"font":"Liberation Sans","color":"#000"},
  "encoding":{"x":{"field":"x","type":"quantitative"},"y":{"field":"t","type":"quantitative"},"text":{"field":"txt"}}}
]}
],
"resolve":{"scale":{"x":"independent"},"axis":{"x":"independent"}}
}
